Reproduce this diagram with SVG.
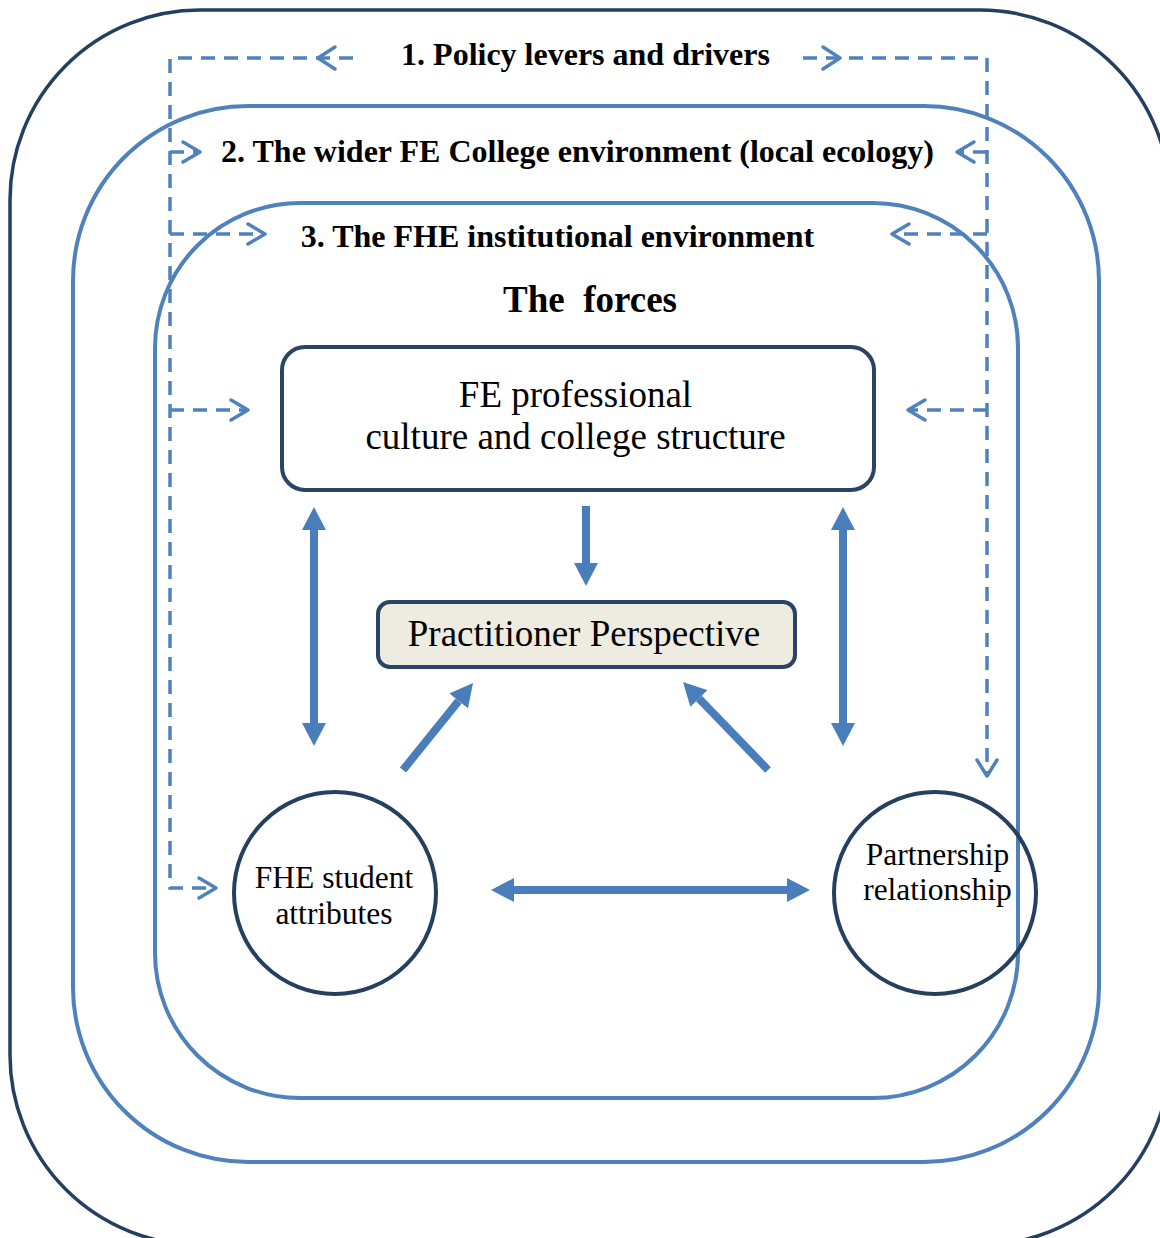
<svg xmlns="http://www.w3.org/2000/svg" width="1160" height="1238" viewBox="0 0 1160 1238">
<style>
.frame{fill:none;stroke:#243F60;stroke-width:3.5}
.layer{fill:none;stroke:#4F81BD;stroke-width:4}
.dash{fill:none;stroke:#4F81BD;stroke-width:3.5;stroke-dasharray:14 9}
.chev{fill:none;stroke:#4F81BD;stroke-width:3.5;stroke-linecap:round;stroke-linejoin:round}
.solid{fill:none;stroke:#4A7EBB;stroke-width:8}
.box{fill:#FFFFFF;stroke:#2A4466;stroke-width:4}
.pbox{fill:#EEECE1;stroke:#2A4466;stroke-width:4}
.circ{fill:none;stroke:#243F60;stroke-width:4}
.hdr{font-family:"Liberation Serif","Times New Roman",serif;font-weight:bold;font-size:32px;fill:#000;text-anchor:middle}
.big{font-family:"Liberation Serif","Times New Roman",serif;font-weight:bold;font-size:37px;fill:#000;text-anchor:middle}
.lbl{font-family:"Liberation Serif","Times New Roman",serif;font-size:37px;fill:#000;text-anchor:middle}
.clbl{font-family:"Liberation Serif","Times New Roman",serif;font-size:31.5px;fill:#000;text-anchor:middle}
</style>
<defs>
<marker id="head" markerUnits="userSpaceOnUse" markerWidth="23" markerHeight="24" refX="0" refY="12" orient="auto-start-reverse" viewBox="0 0 23 24">
<path d="M0,0 L23,12 L0,24 Z" fill="#4A7EBB"/>
</marker>
</defs>

<g id="layer1-policy">
<rect class="frame" x="10" y="10" width="1160" height="1235" rx="190" ry="190"/>
<text class="hdr" x="585.5" y="65">1. Policy levers and drivers</text>
</g>
<g id="layer2-college">
<rect class="layer" x="73" y="106" width="1026" height="1056" rx="175" ry="175"/>
<text class="hdr" x="577.5" y="162">2. The wider FE College environment (local ecology)</text>
</g>
<g id="layer3-fhe">
<rect class="layer" x="155" y="203" width="863" height="895" rx="145" ry="145"/>
<text class="hdr" x="557.5" y="247">3. The FHE institutional environment</text>
<text class="big" x="590" y="312" xml:space="preserve">The  forces</text>
</g>

<g id="fe-culture">
<rect class="box" x="282" y="347" width="592" height="143" rx="23" ry="23"/>
<text class="lbl" x="575.5" y="407">FE professional</text>
<text class="lbl" x="575.5" y="449">culture and college structure</text>
</g>
<g id="practitioner">
<rect class="pbox" x="378" y="602" width="417" height="65" rx="12" ry="12"/>
<text class="lbl" x="584" y="646">Practitioner Perspective</text>
</g>
<g id="student">
<circle class="circ" cx="335" cy="893" r="101"/>
<text class="clbl" x="334" y="888">FHE student</text>
<text class="clbl" x="334" y="924">attributes</text>
</g>
<g id="partnership">
<circle class="circ" cx="935" cy="893" r="101"/>
<text class="clbl" x="937.5" y="865">Partnership</text>
<text class="clbl" x="937.5" y="900">relationship</text>
</g>

<g id="connectors">
<path class="dash" d="M353,58 H170 V888 H214"/>
<path class="dash" d="M803,58 H987 V774"/>
<path class="dash" d="M170,152 H199"/>
<path class="dash" d="M170,234 H263"/>
<path class="dash" d="M170,410 H246"/>
<path class="dash" d="M987,152 H958"/>
<path class="dash" d="M987,234 H894"/>
<path class="dash" d="M987,410 H910"/>
<path class="chev" d="M335,47 L318,58 L335,69"/>
<path class="chev" d="M823,47 L840,58 L823,69"/>
<path class="chev" d="M183,142 L200,152 L183,162"/>
<path class="chev" d="M248,224 L265,234 L248,244"/>
<path class="chev" d="M231,400 L248,410 L231,420"/>
<path class="chev" d="M199,878 L216,888 L199,898"/>
<path class="chev" d="M974,142 L957,152 L974,162"/>
<path class="chev" d="M909,224 L892,234 L909,244"/>
<path class="chev" d="M925,400 L908,410 L925,420"/>
<path class="chev" d="M977,760 L987,776 L997,760"/>
<line class="solid" x1="314" y1="530" x2="314" y2="723" marker-start="url(#head)" marker-end="url(#head)"/>
<line class="solid" x1="843" y1="530" x2="843" y2="723" marker-start="url(#head)" marker-end="url(#head)"/>
<line class="solid" x1="586" y1="506" x2="586" y2="563" marker-end="url(#head)"/>
<line class="solid" x1="514" y1="890" x2="787" y2="890" marker-start="url(#head)" marker-end="url(#head)"/>
<line class="solid" x1="403" y1="770" x2="458.6" y2="700.9" marker-end="url(#head)"/>
<line class="solid" x1="768" y1="770" x2="699" y2="698.5" marker-end="url(#head)"/>
</g>
</svg>
